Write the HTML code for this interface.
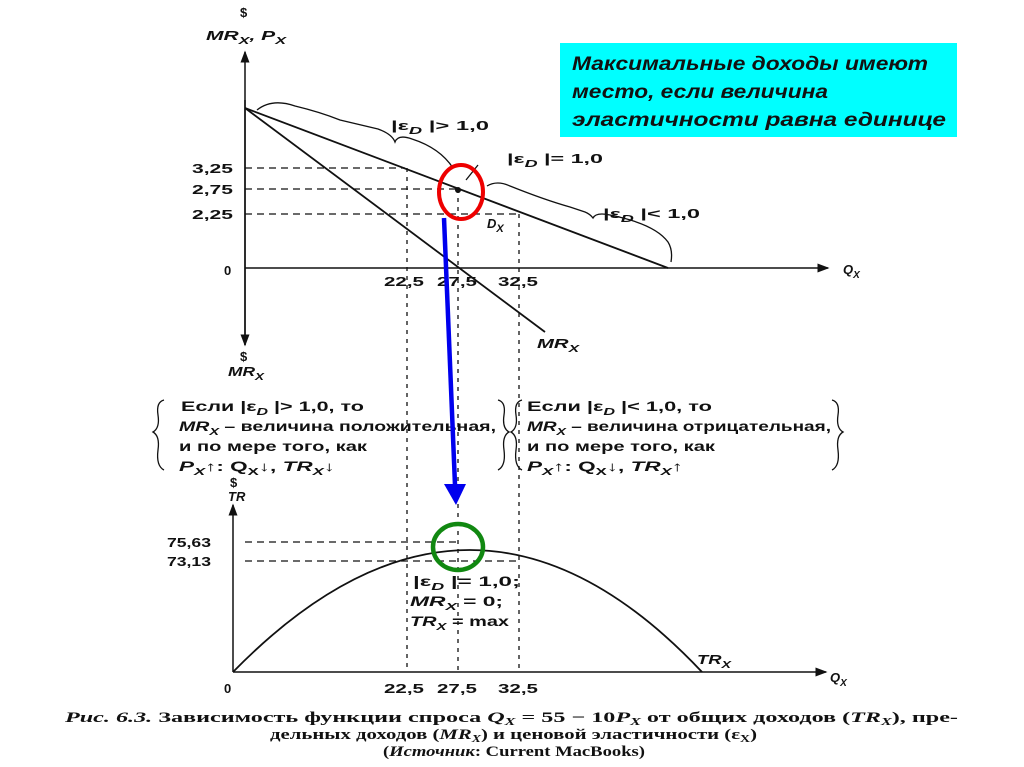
<!DOCTYPE html>
<html><head><meta charset="utf-8"><style>
html,body{margin:0;padding:0;background:#fff;}
svg{display:block;}
text{font-family:"Liberation Sans","DejaVu Sans",sans-serif;fill:#111;}
.s{font-size:13px;font-weight:bold;}
.t{font-size:13.5px;font-weight:bold;}
.i{font-style:italic;}
.c{font-family:"Liberation Serif","DejaVu Serif",serif;font-size:15px;font-weight:bold;}
</style></head><body>
<svg width="1024" height="767" viewBox="0 0 1024 767" xmlns="http://www.w3.org/2000/svg">
<defs>
<marker id="a" markerWidth="8" markerHeight="8" refX="7" refY="4" orient="auto"><path d="M0,1 L8,4 L0,7 Z" fill="#111"/></marker>
</defs>
<line x1="245" y1="345" x2="245" y2="52" stroke="#111" stroke-width="1.5" marker-end="url(#a)"/>
<line x1="245" y1="100" x2="245" y2="345" stroke="#111" stroke-width="1.5" marker-end="url(#a)"/>
<line x1="245" y1="268" x2="828" y2="268" stroke="#111" stroke-width="1.5" marker-end="url(#a)"/>
<line x1="245" y1="108" x2="668" y2="268" stroke="#111" stroke-width="1.8"/>
<line x1="245" y1="108" x2="545" y2="332" stroke="#111" stroke-width="1.8"/>
<g stroke="#111" stroke-width="1.3" stroke-dasharray="7,5" fill="none">
<line x1="245" y1="168" x2="405" y2="168"/>
<line x1="245" y1="189" x2="458" y2="189"/>
<line x1="245" y1="214" x2="520" y2="214"/>
<line x1="245" y1="542" x2="458" y2="542"/>
<line x1="245" y1="561" x2="520" y2="561"/>
</g>
<g stroke="#111" stroke-width="1.3" stroke-dasharray="4,5">
<line x1="407" y1="168" x2="407" y2="672"/>
<line x1="458" y1="189" x2="458" y2="672"/>
<line x1="519" y1="214" x2="519" y2="672"/>
</g>
<circle cx="458" cy="190" r="3" fill="#111"/>
<line x1="466" y1="180" x2="478" y2="165" stroke="#111" stroke-width="1.3"/>
<path d="M257,110 Q272,98 295,106 Q320,112 340,120 L378,129 Q392,134 395,142 Q398,134 412,139 Q440,148 453,168" fill="none" stroke="#111" stroke-width="1.3"/>
<path d="M487,186 Q497,180 510,186 Q545,200 570,207 L585,212 Q590,214 593,218 Q596,212 610,215 Q655,224 668,242 Q673,250 671,262" fill="none" stroke="#111" stroke-width="1.3"/>
<text x="240" y="17" class="s">$</text>
<text x="206" y="40" class="s i" textLength="80" lengthAdjust="spacingAndGlyphs">MR<tspan font-size="10" dy="4">X</tspan><tspan dy="-4">, P</tspan><tspan font-size="10" dy="4">X</tspan></text>
<text x="192" y="173" class="s" textLength="41" lengthAdjust="spacingAndGlyphs">3,25</text>
<text x="192" y="194" class="s" textLength="41" lengthAdjust="spacingAndGlyphs">2,75</text>
<text x="192" y="219" class="s" textLength="41" lengthAdjust="spacingAndGlyphs">2,25</text>
<text x="224" y="275" class="s">0</text>
<text x="384" y="286" class="s" textLength="40" lengthAdjust="spacingAndGlyphs">22,5</text>
<text x="437" y="286" class="s" textLength="40" lengthAdjust="spacingAndGlyphs">27,5</text>
<text x="498" y="286" class="s" textLength="40" lengthAdjust="spacingAndGlyphs">32,5</text>
<text x="843" y="274" class="s i">Q<tspan font-size="10" dy="4">X</tspan></text>
<text x="391" y="130" class="s" textLength="98" lengthAdjust="spacingAndGlyphs">|ε<tspan font-size="10" class="i" dy="4">D</tspan><tspan dy="-4"> |&gt; 1,0</tspan></text>
<text x="507" y="163" class="s" textLength="96" lengthAdjust="spacingAndGlyphs">|ε<tspan font-size="10" class="i" dy="4">D</tspan><tspan dy="-4"> |= 1,0</tspan></text>
<text x="603" y="218" class="s" textLength="97" lengthAdjust="spacingAndGlyphs">|ε<tspan font-size="10" class="i" dy="4">D</tspan><tspan dy="-4"> |&lt; 1,0</tspan></text>
<text x="487" y="228" class="s i" font-size="14">D<tspan font-size="11" dy="4">X</tspan></text>
<text x="537" y="348" class="s i" textLength="42" lengthAdjust="spacingAndGlyphs">MR<tspan font-size="10" dy="4">X</tspan></text>
<text x="240" y="361" class="s">$</text>
<text x="228" y="376" class="s i" textLength="36" lengthAdjust="spacingAndGlyphs">MR<tspan font-size="10" dy="4">X</tspan></text>
<path d="M164,400 Q156,402 158,415 Q160,428 153,432 Q160,436 158,450 Q156,466 164,470" fill="none" stroke="#111" stroke-width="1.3"/>
<path d="M498,400 Q506,402 504,415 Q502,428 509,432 Q502,436 504,450 Q506,466 498,470" fill="none" stroke="#111" stroke-width="1.3"/>
<path d="M522,400 Q514,402 516,415 Q518,428 511,432 Q518,436 516,450 Q514,466 522,470" fill="none" stroke="#111" stroke-width="1.3"/>
<path d="M832,400 Q840,402 838,415 Q836,428 843,432 Q836,436 838,450 Q840,466 832,470" fill="none" stroke="#111" stroke-width="1.3"/>
<text x="181" y="411" class="t" textLength="183" lengthAdjust="spacingAndGlyphs">Если |ε<tspan font-size="10" class="i" dy="4">D</tspan><tspan dy="-4"> |&gt; 1,0, то</tspan></text>
<text x="179" y="431" class="t" textLength="317" lengthAdjust="spacingAndGlyphs"><tspan class="i">MR</tspan><tspan font-size="10" class="i" dy="4">X</tspan><tspan dy="-4"> – величина положительная,</tspan></text>
<text x="179" y="451" class="t" textLength="188" lengthAdjust="spacingAndGlyphs">и по мере того, как</text>
<text x="179" y="471" class="t" textLength="156" lengthAdjust="spacingAndGlyphs"><tspan class="i">P</tspan><tspan font-size="10" class="i" dy="4">X</tspan><tspan dy="-4">↑: Q</tspan><tspan font-size="10" dy="4">X</tspan><tspan dy="-4">↓, </tspan><tspan class="i">TR</tspan><tspan font-size="10" class="i" dy="4">X</tspan><tspan dy="-4">↓</tspan></text>
<text x="527" y="411" class="t" textLength="185" lengthAdjust="spacingAndGlyphs">Если |ε<tspan font-size="10" class="i" dy="4">D</tspan><tspan dy="-4"> |&lt; 1,0, то</tspan></text>
<text x="527" y="431" class="t" textLength="304" lengthAdjust="spacingAndGlyphs"><tspan class="i">MR</tspan><tspan font-size="10" class="i" dy="4">X</tspan><tspan dy="-4"> – величина отрицательная,</tspan></text>
<text x="527" y="451" class="t" textLength="188" lengthAdjust="spacingAndGlyphs">и по мере того, как</text>
<text x="527" y="471" class="t" textLength="156" lengthAdjust="spacingAndGlyphs"><tspan class="i">P</tspan><tspan font-size="10" class="i" dy="4">X</tspan><tspan dy="-4">↑: Q</tspan><tspan font-size="10" dy="4">X</tspan><tspan dy="-4">↓, </tspan><tspan class="i">TR</tspan><tspan font-size="10" class="i" dy="4">X</tspan><tspan dy="-4">↑</tspan></text>
<line x1="233" y1="672" x2="233" y2="505" stroke="#111" stroke-width="1.5" marker-end="url(#a)"/>
<line x1="233" y1="672" x2="826" y2="672" stroke="#111" stroke-width="1.5" marker-end="url(#a)"/>
<path d="M233,672 Q472,428 702,672" fill="none" stroke="#111" stroke-width="1.8"/>
<text x="230" y="487" class="s">$</text>
<text x="228" y="501" class="s i">TR</text>
<text x="167" y="547" class="s" textLength="44" lengthAdjust="spacingAndGlyphs">75,63</text>
<text x="167" y="566" class="s" textLength="44" lengthAdjust="spacingAndGlyphs">73,13</text>
<text x="224" y="693" class="s">0</text>
<text x="384" y="693" class="s" textLength="40" lengthAdjust="spacingAndGlyphs">22,5</text>
<text x="437" y="693" class="s" textLength="40" lengthAdjust="spacingAndGlyphs">27,5</text>
<text x="498" y="693" class="s" textLength="40" lengthAdjust="spacingAndGlyphs">32,5</text>
<text x="830" y="682" class="s i">Q<tspan font-size="10" dy="4">X</tspan></text>
<text x="697" y="664" class="s i" textLength="34" lengthAdjust="spacingAndGlyphs">TR<tspan font-size="10" dy="4">X</tspan></text>
<text x="413" y="586" class="t" textLength="107" lengthAdjust="spacingAndGlyphs">|ε<tspan font-size="10" class="i" dy="4">D</tspan><tspan dy="-4"> |= 1,0;</tspan></text>
<text x="410" y="606" class="t" textLength="93" lengthAdjust="spacingAndGlyphs"><tspan class="i">MR</tspan><tspan font-size="10" class="i" dy="4">X</tspan><tspan dy="-4"> = 0;</tspan></text>
<text x="410" y="626" class="t" textLength="99" lengthAdjust="spacingAndGlyphs"><tspan class="i">TR</tspan><tspan font-size="10" class="i" dy="4">X</tspan><tspan dy="-4"> = max</tspan></text>
<text x="65" y="722" class="c" textLength="893" lengthAdjust="spacingAndGlyphs"><tspan class="i">Рис. 6.3.</tspan> Зависимость функции спроса <tspan class="i">Q</tspan><tspan class="i" font-size="10" dy="3">X</tspan><tspan dy="-3"> = 55 − 10</tspan><tspan class="i">P</tspan><tspan class="i" font-size="10" dy="3">X</tspan><tspan dy="-3"> от общих доходов (</tspan><tspan class="i">TR</tspan><tspan class="i" font-size="10" dy="3">X</tspan><tspan dy="-3">), пре-</tspan></text>
<text x="270" y="739" class="c" textLength="487" lengthAdjust="spacingAndGlyphs">дельных доходов (<tspan class="i">MR</tspan><tspan class="i" font-size="10" dy="3">X</tspan><tspan dy="-3">) и ценовой эластичности (ε</tspan><tspan font-size="10" dy="3">X</tspan><tspan dy="-3">)</tspan></text>
<text x="383" y="756" class="c" font-weight="normal" textLength="262" lengthAdjust="spacingAndGlyphs">(<tspan class="i">Источник</tspan>: Current MacBooks)</text>
<rect x="560" y="43" width="397" height="94" fill="#00ffff"/>
<text x="572" y="70" font-size="19" font-weight="bold" font-style="italic" textLength="356" lengthAdjust="spacingAndGlyphs">Максимальные доходы имеют</text>
<text x="572" y="98" font-size="19" font-weight="bold" font-style="italic" textLength="256" lengthAdjust="spacingAndGlyphs">место, если величина</text>
<text x="572" y="126" font-size="19" font-weight="bold" font-style="italic" textLength="374" lengthAdjust="spacingAndGlyphs">эластичности равна единице</text>
<ellipse cx="461" cy="192" rx="22" ry="27" fill="none" stroke="#ee0000" stroke-width="4"/>
<line x1="444" y1="218" x2="455" y2="485" stroke="#0000ee" stroke-width="4.5"/>
<path d="M444,484 L466,484 L456,505 Z" fill="#0000ee"/>
<ellipse cx="458" cy="547" rx="25" ry="23" fill="none" stroke="#118811" stroke-width="4.5"/>
</svg>
</body></html>
